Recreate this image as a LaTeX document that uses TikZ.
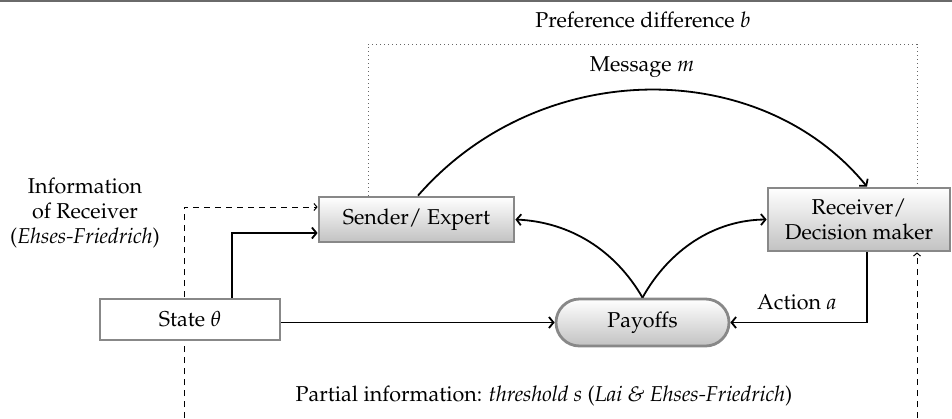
\documentclass[tikz,border=0pt]{standalone}
\usepackage[T1]{fontenc}
\usepackage{mathpazo}
\usetikzlibrary{arrows.meta,calc,shapes.misc}
\definecolor{boxgray}{HTML}{888888}
\definecolor{bargray}{HTML}{6A6A6A}
\begin{document}
\begin{tikzpicture}[x=1pt,y=-1pt,
  every node/.style={font=\fontsize{21.5}{24.5}\selectfont},
  shadedbox/.style={draw=boxgray,line width=2.8pt,top color=white,bottom color=black!24,
    inner sep=0pt,align=center},
  plainbox/.style={draw=boxgray,line width=2.8pt,fill=white,inner sep=0pt},
  solidarrow/.style={line width=1.8pt,-{Straight Barb[length=4.5pt,width=11pt]}},
  dasharrow/.style={line width=1pt,dash pattern=on 6pt off 5pt,-{Straight Barb[length=3pt,width=7pt]}},
  dottedline/.style={line width=1pt,dash pattern=on 1pt off 3pt,black!60},
  lbl/.style={inner sep=0pt}]
\useasboundingbox (0,0) rectangle (952,418);
\fill[bargray] (0,0) rectangle (952,2.2);

% free ends of the dashed information lines
\coordinate (dlb) at (184,418);
\coordinate (drb) at (917,418);
\coordinate (dlc) at (184,207);

% nodes
\node[shadedbox,minimum width=195pt,minimum height=45pt] (sender) at (416.5,219.5) {Sender/ Expert};
\node[shadedbox,minimum width=182pt,minimum height=63pt] (receiver) at (859,219.5) {Receiver/\\Decision maker};
\node[shadedbox,rounded rectangle,minimum width=173pt,minimum height=47pt] (payoffs) at (642.5,322.5) {Payoffs};

% dotted preference frame
\coordinate (dtl) at (368,44);
\coordinate (dtr) at (917,44);
\draw[dottedline] (sender.north west -| dtl) -- (dtl) -- (dtr) -- (receiver.north west -| dtr);

% dashed arrows
\draw[dasharrow] (dlb) -- (dlc) -- (sender.west |- dlc);
\draw[dasharrow] (drb) -- (receiver.south west -| drb);

% state box drawn over the dashed line
\node[plainbox,minimum width=180pt,minimum height=41pt] (state) at (190,319.5) {State $\theta$};

% solid arrows
\coordinate (sup1) at (232,233);
\draw[solidarrow] (state.north -| sup1) -- (sup1) -- (sender.west |- sup1);
\draw[solidarrow] (state.east |- payoffs) -- (payoffs.west);
\coordinate (rdown) at (867,322.5);
\draw[solidarrow] (receiver.south -| rdown) -- (rdown) -- (payoffs.east);
\draw[solidarrow] ($(sender.north)+(1.5,0)$) .. controls (540,56) and (760,56) .. ($(receiver.north)+(8,0)$);
\draw[solidarrow] (payoffs.north) .. controls (615,250) and (570,222) .. (sender.east);
\draw[solidarrow] (payoffs.north) .. controls (669,250) and (714,220) .. (receiver.west);

% labels
\node[lbl] (pref) at (643,20) {Preference difference $b$};
\node[lbl] (msg) at (642,67) {Message $m$};
\node[lbl,align=center,font=\fontsize{21.5}{25}\selectfont] (info) at (85,213) {Information\\of Receiver\\(\textit{Ehses-Friedrich})};
\node[lbl] (act) at (797,302) {Action $a$};
\node[lbl] (partial) at (544,396) {Partial information: \textit{threshold s} (\textit{Lai \& Ehses-Friedrich})};
\end{tikzpicture}
\end{document}
